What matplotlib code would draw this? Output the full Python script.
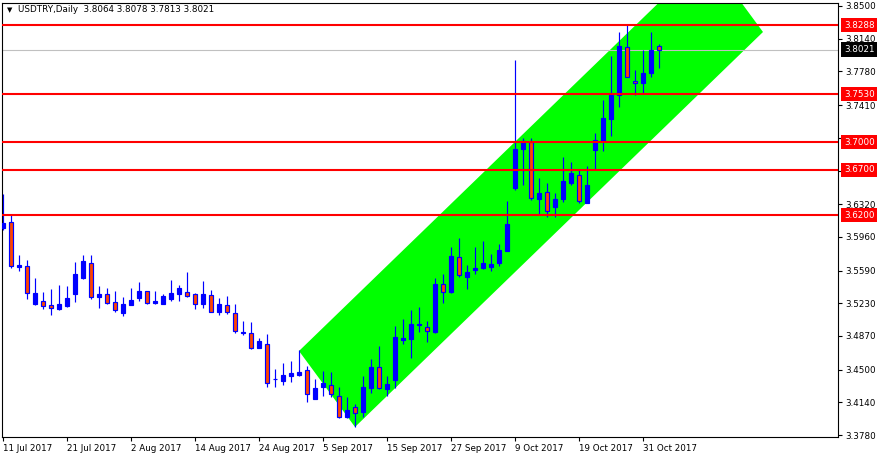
#Import Libraries
import numpy as np
import pandas as pd
import matplotlib
matplotlib.use("Agg")
import matplotlib.pyplot as plt
import matplotlib.transforms as mtransforms

# Daily USDTRY candles, 11 Jul 2017 - 2 Nov 2017 (business days)
dates = pd.bdate_range("2017-07-11", periods=83)

opens = [3.6062, 3.6120, 3.5633, 3.5636, 3.5218, 3.5255, 3.5211, 3.5171, 3.5200, 3.5336,
         3.5512, 3.5669, 3.5303, 3.5328, 3.5240, 3.5127, 3.5211, 3.5284, 3.5365, 3.5237,
         3.5226, 3.5273, 3.5336, 3.5350, 3.5328, 3.5226, 3.5317, 3.5138, 3.5207, 3.5119,
         3.4907, 3.4899, 3.4742, 3.4778, 3.4393, 3.4379, 3.4434, 3.4441, 3.4496, 3.4181,
         3.4305, 3.4327, 3.4214, 3.3975, 3.4093, 3.4030, 3.4294, 3.4525, 3.4283, 3.4382,
         3.4826, 3.4841, 3.4987, 3.4965, 3.4914, 3.5438, 3.5358, 3.5735, 3.5523, 3.5596,
         3.5618, 3.5633, 3.5669, 3.5809, 3.6502, 3.6923, 3.7004, 3.6373, 3.6450, 3.6285,
         3.6373, 3.6557, 3.6637, 3.6337, 3.6916, 3.7019, 3.7257, 3.7521, 3.8045, 3.7675,
         3.7649, 3.7759, 3.8064]
highs = [3.6432, 3.6208, 3.5761, 3.5706, 3.5508, 3.5354, 3.5391, 3.5431, 3.5420, 3.5688,
         3.5761, 3.5761, 3.5420, 3.5402, 3.5365, 3.5303, 3.5402, 3.5468, 3.5370, 3.5365,
         3.5328, 3.5486, 3.5431, 3.5574, 3.5339, 3.5475, 3.5376, 3.5292, 3.5310, 3.5222,
         3.5035, 3.5024, 3.4844, 3.4892, 3.4507, 3.4577, 3.4595, 3.4716, 3.4540, 3.4393,
         3.4485, 3.4474, 3.4305, 3.4203, 3.4122, 3.4430, 3.4617, 3.4760, 3.4430, 3.4980,
         3.5057, 3.5156, 3.5189, 3.5035, 3.5504, 3.5552, 3.5849, 3.5948, 3.5651, 3.5845,
         3.5915, 3.5772, 3.5882, 3.6351, 3.7906, 3.7044, 3.7044, 3.6604, 3.6549, 3.6439,
         3.6835, 3.6788, 3.6703, 3.6740, 3.7099, 3.7466, 3.7950, 3.8210, 3.8290, 3.7796,
         3.8016, 3.8214, 3.8078]
lows = [3.6036, 3.5622, 3.5589, 3.5273, 3.5212, 3.5171, 3.5101, 3.5156, 3.5193, 3.5248,
        3.5497, 3.5281, 3.5182, 3.5225, 3.5130, 3.5094, 3.5208, 3.5259, 3.5225, 3.5222,
        3.5222, 3.5259, 3.5259, 3.5295, 3.5171, 3.5182, 3.5135, 3.5105, 3.5108, 3.4899,
        3.4885, 3.4730, 3.4740, 3.4313, 3.4313, 3.4331, 3.4368, 3.4430, 3.4148, 3.4181,
        3.4214, 3.4203, 3.3970, 3.3964, 3.3865, 3.3975, 3.4239, 3.4290, 3.4210, 3.4302,
        3.4786, 3.4632, 3.4918, 3.4808, 3.4907, 3.5229, 3.5339, 3.5523, 3.5383, 3.5552,
        3.5611, 3.5589, 3.5644, 3.5805, 3.6472, 3.6531, 3.6366, 3.6201, 3.6183, 3.6183,
        3.6348, 3.6531, 3.6337, 3.6329, 3.6703, 3.6909, 3.7074, 3.7385, 3.7718, 3.7521,
        3.7532, 3.7723, 3.7813]
closes = [3.6117, 3.5644, 3.5651, 3.5339, 3.5339, 3.5204, 3.5174, 3.5222, 3.5288, 3.5552,
          3.5695, 3.5303, 3.5328, 3.5229, 3.5152, 3.5222, 3.5266, 3.5365, 3.5229, 3.5255,
          3.5310, 3.5339, 3.5398, 3.5306, 3.5226, 3.5332, 3.5138, 3.5222, 3.5138, 3.4921,
          3.4914, 3.4734, 3.4815, 3.4349, 3.4401, 3.4441, 3.4463, 3.4474, 3.4228, 3.4294,
          3.4349, 3.4228, 3.3975, 3.4056, 3.4019, 3.4305, 3.4525, 3.4294, 3.4342, 3.4855,
          3.4848, 3.5002, 3.5006, 3.4921, 3.5442, 3.5358, 3.5750, 3.5537, 3.5570, 3.5618,
          3.5673, 3.5662, 3.5816, 3.6102, 3.6927, 3.7011, 3.6384, 3.6439, 3.6245, 3.6373,
          3.6575, 3.6659, 3.6359, 3.6531, 3.7026, 3.7264, 3.7521, 3.8060, 3.7723, 3.7649,
          3.7759, 3.8016, 3.8021]

# Support / resistance levels and current bid
levels = [3.8288, 3.7530, 3.7000, 3.6700, 3.6200]
bid = 3.8021

# Rising channel corners (bar index, price)
channel_bars = [37, 44, 95, 88]
channel_prices = [3.4705, 3.3869, 3.8214, 3.9050]

# Price scale ticks (3.7050 / 3.6680 sit under the level boxes, so no label)
price_ticks = [3.8500, 3.8140, 3.7780, 3.7410, 3.7050, 3.6680, 3.6320,
               3.5960, 3.5590, 3.5230, 3.4870, 3.4500, 3.4140, 3.3780]
hidden_ticks = [3.7050, 3.6680]

BULL = "#0000ff"
BEAR = "#ff4500"
FS = 6.3
W, H = 878, 459

fig = plt.figure(figsize=(W / 100, H / 100), dpi=100)
ax = fig.add_axes([2 / W, 1 - 437 / H, 836 / W, 434 / H])

x = np.arange(len(dates))
o = np.array(opens); c = np.array(closes)
hi = np.array(highs); lo = np.array(lows)

# channel as background
ax.fill(channel_bars, channel_prices, color="#00ff00", lw=0, zorder=1)

# bid line
ax.axhline(bid, color="#c0c0c0", lw=0.8, zorder=1.5)

# candles
ax.vlines(x, lo, hi, color=BULL, lw=0.85, zorder=2)
body_lo = np.minimum(o, c)
body_h = np.maximum(np.abs(c - o), 0.0007)
face = [BULL if cc >= oo else BEAR for oo, cc in zip(o, c)]
ax.bar(x, body_h, bottom=body_lo, width=0.62, color=face,
       edgecolor=BULL, lw=0.85, zorder=3)

# horizontal levels
for lv in levels:
    ax.axhline(lv, color="#ff0000", lw=1.5, zorder=4)

ax.set_xlim(-0.125, 104.375)
ax.set_ylim(3.3759, 3.8533)

# axes styling
for s in ax.spines.values():
    s.set_color("black")
    s.set_linewidth(0.8)

ax.yaxis.tick_right()
ax.set_yticks(price_ticks)
ax.set_yticklabels(["" if p in hidden_ticks else f"{p:.4f}" for p in price_ticks],
                   fontsize=FS)
ax.tick_params(axis="y", length=3, width=0.8, pad=2.5, right=True, left=False)

tick_idx = x[::8]
ax.set_xticks(tick_idx)
ax.set_xticklabels([f"{d.day} {d.strftime('%b %Y')}" for d in dates[tick_idx]],
                   fontsize=FS, ha="left")
ax.tick_params(axis="x", length=3, width=0.8, pad=2)

# boxed price labels on the scale
trans = mtransforms.blended_transform_factory(ax.transAxes, ax.transData)
for lv in levels:
    ax.text(1 + 6 / 836, lv, f"{lv:.4f}", transform=trans, fontsize=FS,
            color="white", va="center", ha="left", zorder=10, clip_on=False,
            bbox=dict(boxstyle="square,pad=0.3", fc="#ff0000", ec="none"))
ax.text(1 + 6 / 836, bid, f"{bid:.4f}", transform=trans, fontsize=FS,
        color="white", va="center", ha="left", zorder=10, clip_on=False,
        bbox=dict(boxstyle="square,pad=0.3", fc="black", ec="none"))

# header
fig.text(7 / W, 1 - 10 / H, "\u25bc", fontsize=5, va="center", ha="left")
fig.text(18 / W, 1 - 10 / H,
         f"USDTRY,Daily  {opens[-1]:.4f} {highs[-1]:.4f} {lows[-1]:.4f} {closes[-1]:.4f}",
         fontsize=FS, va="center", ha="left")

fig.savefig("out.png", dpi=100, facecolor="white")
